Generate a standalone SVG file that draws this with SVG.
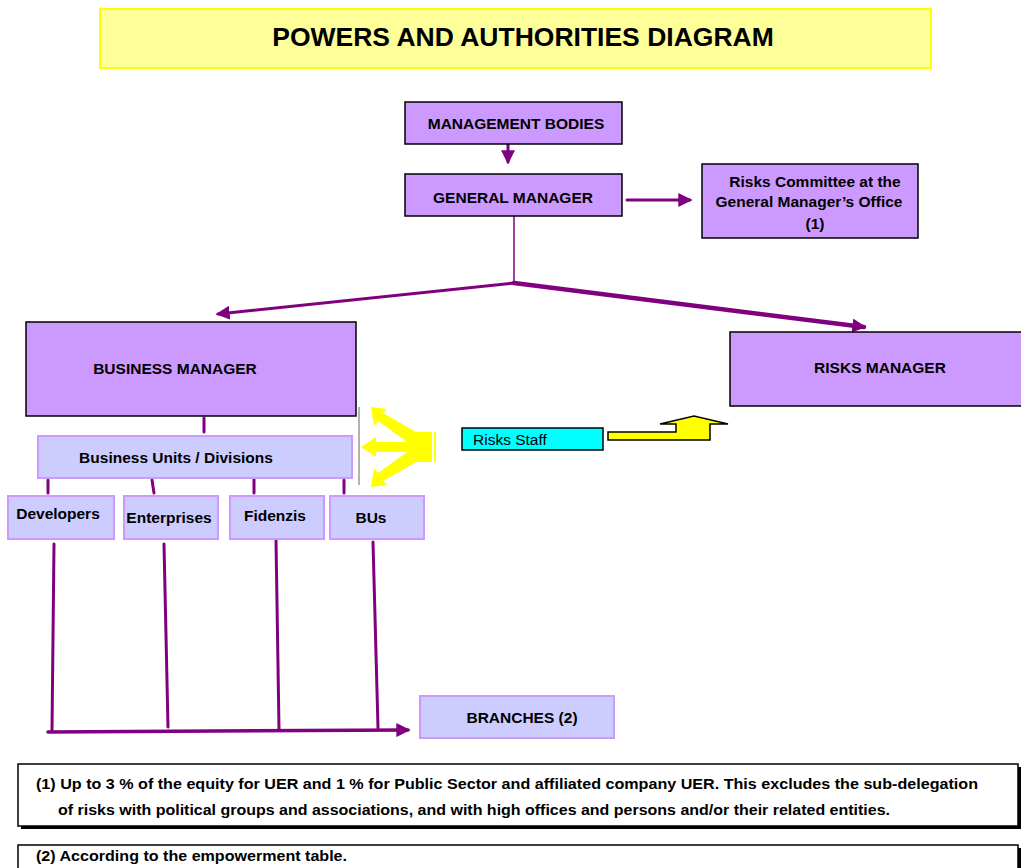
<svg xmlns="http://www.w3.org/2000/svg" width="1021" height="868" viewBox="0 0 1021 868">
<style>
.t{font-family:"Liberation Sans",Arial,sans-serif;font-weight:bold;fill:#000;text-anchor:middle;font-size:15.5px}
.pb{fill:#cc99ff;stroke:#000;stroke-width:1.5}
.lb{fill:#ccccff;stroke:#cc99ff;stroke-width:2}
.c{stroke:#800080;fill:none;stroke-linecap:round}
.n{font-family:"Liberation Sans",Arial,sans-serif;font-weight:bold;font-size:15px;fill:#000}
</style>
<defs>
<marker id="ah" markerUnits="userSpaceOnUse" markerWidth="14" markerHeight="14" refX="10" refY="6" orient="auto" viewBox="0 0 12 12">
<path d="M0,0 L12,6 L0,12 Z" fill="#800080"/>
</marker>
</defs>
<rect width="1021" height="868" fill="#fff"/>

<g id="title">
<rect x="100" y="9" width="831" height="59" fill="#ffff99" stroke="#ffff00" stroke-width="2"/>
<text class="t" x="523" y="46" style="font-size:26.5px">POWERS AND AUTHORITIES DIAGRAM</text>
</g>

<g id="connectors">
<line class="c" x1="508" y1="145" x2="508" y2="162" stroke-width="3" marker-end="url(#ah)"/>
<line class="c" x1="627" y1="200" x2="690" y2="200" stroke-width="3" marker-end="url(#ah)"/>
<line class="c" x1="514" y1="216" x2="514" y2="283" stroke-width="1.5"/>
<line class="c" x1="514" y1="283" x2="218" y2="314" stroke-width="3" marker-end="url(#ah)"/>
<line class="c" x1="514" y1="283" x2="864" y2="327" stroke-width="4.5" marker-end="url(#ah)"/>
<line x1="359" y1="407" x2="359" y2="485" stroke="#666" stroke-width="1"/>
<line class="c" x1="204" y1="418" x2="204" y2="432" stroke-width="3"/>
<line class="c" x1="48" y1="480" x2="48" y2="493" stroke-width="3"/>
<line class="c" x1="152" y1="480" x2="154" y2="493" stroke-width="3"/>
<line class="c" x1="254" y1="477" x2="254" y2="493" stroke-width="3"/>
<line class="c" x1="344" y1="480" x2="344" y2="493" stroke-width="3"/>
<line class="c" x1="54" y1="544" x2="52" y2="730" stroke-width="3"/>
<line class="c" x1="164" y1="544" x2="168" y2="727" stroke-width="3"/>
<line class="c" x1="276" y1="540" x2="279" y2="729" stroke-width="3"/>
<line class="c" x1="373" y1="542" x2="378" y2="728" stroke-width="3"/>
<line class="c" x1="48" y1="732" x2="408" y2="730" stroke-width="3.5" marker-end="url(#ah)"/>
</g>

<g id="management-bodies">
<rect class="pb" x="405" y="102" width="217" height="42"/>
<text class="t" x="516" y="129">MANAGEMENT BODIES</text>
</g>

<g id="general-manager">
<rect class="pb" x="405" y="174" width="217" height="42"/>
<text class="t" x="513" y="203">GENERAL MANAGER</text>
</g>

<g id="risks-committee">
<rect class="pb" x="702" y="164" width="216" height="74"/>
<text class="t" x="815" y="187">Risks Committee at the</text>
<text class="t" x="809" y="207">General Manager’s Office</text>
<text class="t" x="815" y="229">(1)</text>
</g>

<g id="business-manager">
<rect class="pb" x="26" y="322" width="330" height="94"/>
<text class="t" x="175" y="374">BUSINESS MANAGER</text>
</g>

<g id="risks-manager">
<rect class="pb" x="730" y="332" width="295" height="74"/>
<text class="t" x="880" y="373">RISKS MANAGER</text>
</g>

<g id="business-units">
<rect class="lb" x="38" y="436" width="314" height="42"/>
<text class="t" x="176" y="463">Business Units / Divisions</text>
</g>

<g id="developers">
<rect class="lb" x="8" y="496" width="106" height="43"/>
<text class="t" x="58" y="519">Developers</text>
</g>

<g id="enterprises">
<rect class="lb" x="124" y="496" width="94" height="43"/>
<text class="t" x="169" y="523">Enterprises</text>
</g>

<g id="fidenzis">
<rect class="lb" x="230" y="496" width="94" height="43"/>
<text class="t" x="275" y="521">Fidenzis</text>
</g>

<g id="bus">
<rect class="lb" x="330" y="496" width="94" height="43"/>
<text class="t" x="371" y="523">BUs</text>
</g>

<g id="branches">
<rect class="lb" x="420" y="696" width="194" height="42"/>
<text class="t" x="522" y="723">BRANCHES (2)</text>
</g>

<g id="risks-staff">
<rect x="462" y="428" width="141" height="22" fill="#00ffff" stroke="#000" stroke-width="1.5"/>
<text x="473" y="445" font-family="&quot;Liberation Sans&quot;,Arial,sans-serif" font-size="15.5" fill="#000">Risks Staff</text>
</g>

<g id="yellow-up-arrow">
<polygon points="608,432 676,432 676,424 660,424 694,416 728,424 710,424 710,440 608,440" fill="#ffff00" stroke="#000" stroke-width="1.5" stroke-linejoin="miter"/>
</g>

<g id="yellow-split-arrow" fill="#ffff00">
<rect x="410" y="432" width="22" height="30"/>
<rect x="434" y="432" width="2" height="30"/>
<polygon points="376,442 412,442 412,452 376,452 376,457 361,447 376,437"/>
<polygon points="418,433 410,444 378,421 374,426 371,407 387,409 383,413"/>
<polygon points="418,461 410,450 378,473 374,468 371,487 387,485 383,481"/>
</g>

<g id="note-1">
<rect x="21" y="767" width="1000" height="62" fill="#000"/>
<rect x="18" y="764" width="1000" height="62" fill="#fff" stroke="#000" stroke-width="1.5"/>
<text class="n" x="36" y="789" textLength="942" lengthAdjust="spacingAndGlyphs">(1) Up to 3 % of the equity for UER  and 1 % for Public Sector and affiliated company UER. This excludes the sub-delegation</text>
<text class="n" x="58" y="815" textLength="832" lengthAdjust="spacingAndGlyphs">of risks with political groups and associations, and with high offices and persons and/or their related entities.</text>
</g>

<g id="note-2">
<rect x="21" y="848" width="1000" height="30" fill="#000"/>
<rect x="18" y="845" width="1000" height="30" fill="#fff" stroke="#000" stroke-width="1.5"/>
<text class="n" x="36" y="861" textLength="311" lengthAdjust="spacingAndGlyphs">(2) According to the empowerment table.</text>
</g>
</svg>
